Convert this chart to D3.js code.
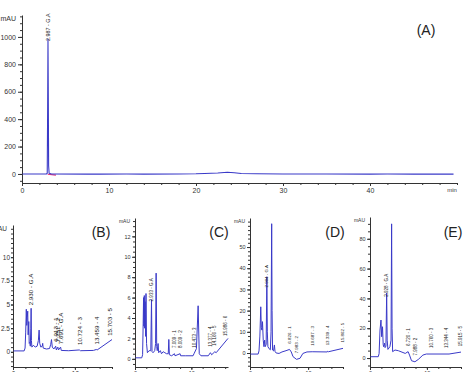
<!DOCTYPE html>
<html><head><meta charset="utf-8">
<script src="https://cdn.jsdelivr.net/npm/d3@7"></script>
<style>body{margin:0;background:#fff}svg{display:block}text{font-family:"Liberation Sans",Arial,sans-serif}</style>
</head><body><svg id="c" width="463" height="372"></svg>
<script>
// ================= DATA =================
// Panel A (standard)
const timeTicksA = [0, 10, 20, 30, 40];
const yTicksA = [0, 200, 400, 600, 800, 1000];
const traceA = [[0,0],[2.8,0],[2.9,5],[2.95,500],[2.987,985],[3.02,600],[3.06,60],[3.12,5],[3.4,0],[7.5,-1],[9,-1],[12,0],[14,-1],[18,0],[20,1],[21,3],[22.5,7],[23.6,12],[24.4,9],[25.2,3],[27,1],[30,0],[35,0],[40,-1],[42,0],[45,-1],[49.6,-1]];
const labelsA = [[2.987, "2.987 - G.A"]];
const integA = [[2.95,-2],[3.9,-8]];

// Panel B
const yTicksB = [0, 2.5, 5, 7.5, 10];
const yTickTextB = ["0", "2.5", "5", "7.5", "10"];
const traceB = [[0,0.1],[1.8,0.1],[1.95,0.4],[2.05,2.0],[2.15,4.5],[2.22,2.8],[2.3,3.6],[2.38,4.3],[2.45,1.8],[2.55,3.2],[2.62,0.9],[2.72,1.0],[2.8,0.6],[2.88,2.5],[2.93,4.6],[2.98,1.2],[3.05,0.5],[3.3,0.7],[3.6,0.5],[3.9,0.6],[4.1,1.2],[4.22,2.3],[4.32,0.9],[4.5,0.5],[4.72,0.6],[4.8,0.9],[4.88,0.4],[5.4,0.3],[5.9,0.35],[6.1,0.8],[6.22,1.3],[6.35,0.5],[6.6,0.3],[6.9,0.6],[7.0,0.2],[7.25,0.5],[7.35,0.2],[7.69,0.5],[7.8,0.15],[9,0.12],[10.72,0.2],[10.9,0.12],[13.0,0.15],[13.46,0.25],[13.6,0.2],[16,1.3]];
const labelsB = [[2.930,"2.930 - G.A"],[6.913,"6.913 - 1"],[7.251,"7.251 - 2"],[7.691,"7.691 - G.A"],[10.724,"10.724 - 3"],[13.459,"13.459 - 4"],[15.703,"15.703 - 5"]];

// Panel C
const yTicksC = [0, 2, 4, 6, 8, 10, 12];
const traceC = [[0,0.1],[1.2,0.1],[1.35,0.4],[1.45,3.5],[1.52,6.0],[1.58,3.2],[1.65,6.2],[1.72,3.0],[1.8,5.6],[1.88,2.2],[1.95,6.4],[2.05,1.5],[2.2,0.6],[2.5,0.8],[2.8,0.8],[2.93,5.8],[3.02,0.7],[3.2,0.6],[3.5,0.8],[3.65,1.5],[3.75,8.4],[3.85,1.2],[3.95,0.8],[4.1,1.5],[4.2,0.6],[4.5,0.8],[4.7,0.5],[5.0,0.7],[5.3,0.6],[5.6,0.5],[5.9,0.5],[6.0,1.9],[6.1,0.4],[6.5,0.3],[7.0,0.5],[7.1,0.3],[8.0,0.5],[8.1,0.3],[9,0.3],[10.3,0.3],[10.47,0.5],[10.9,1.0],[11.2,5.2],[11.4,0.5],[11.7,0.3],[13.0,0.3],[13.38,0.6],[13.6,0.4],[14.17,0.7],[14.4,0.6],[16.5,2.0]];
const labelsC = [[2.933,"2.933 - G.A"],[7.009,"7.009 - 1"],[8.009,"8.009 - 2"],[10.473,"10.473 - 3"],[13.377,"13.377 - 4"],[14.166,"14.166 - 5"],[15.986,"15.986 - 6"]];

// Panel D
const yTicksD = [0, 10, 20, 30, 40, 50];
const traceD = [[0,-0.5],[1.4,-0.5],[1.55,1],[1.7,8],[1.85,21.8],[1.95,12],[2.05,10.8],[2.15,14.8],[2.28,6],[2.4,3],[2.52,6.1],[2.62,3],[2.78,4],[2.9,36],[2.98,10],[3.08,3],[3.3,2],[3.5,1.5],[3.62,10],[3.73,61],[3.8,20],[3.88,1.4],[4.05,1.0],[4.2,3.8],[4.3,0.8],[4.5,0],[5.0,-0.2],[5.5,0.5],[6.2,1.1],[6.8,1.7],[7.1,0.5],[7.4,-1.7],[8.0,-3],[8.6,-2.5],[9.1,-0.2],[9.8,0.5],[10.7,0.6],[13.3,0.5],[13.34,0.8],[13.5,0.6],[16,2.2]];
const labelsD = [[2.904,"2.904 - G.A"],[6.826,"6.826 - 1"],[7.983,"7.983 - 2"],[10.687,"10.687 - 3"],[13.339,"13.339 - 4"],[15.862,"15.862 - 5"]];

// Panel E
const yTicksE = [0, 20, 40, 60, 80];
const traceE = [[0,0.9],[1.45,0.9],[1.6,3],[1.76,18.8],[1.93,25.5],[2.05,14.3],[2.2,21],[2.32,9],[2.4,7.6],[2.55,10],[2.65,7],[2.8,8],[2.93,43.6],[3.02,12],[3.15,5.8],[3.5,7.6],[3.7,12],[3.8,90],[3.88,20],[3.98,4.3],[4.4,5.4],[5.0,4.9],[6.2,3.1],[6.7,4.3],[6.95,2],[7.3,-1.8],[7.9,-2.5],[8.5,-0.9],[9.3,2],[9.9,2.7],[13.9,2.7],[16,4.0]];
const labelsE = [[2.928,"2.928 - G.A"],[6.720,"6.720 - 1"],[7.988,"7.988 - 2"],[10.760,"10.760 - 3"],[13.344,"13.344 - 4"],[15.915,"15.915 - 5"]];

const timeTicksSmall = [0, 10];
const panelNames = ["(A)", "(B)", "(C)", "(D)", "(E)"];

// ================= DRAW =================
const FONT = "Liberation Sans, Arial, sans-serif";
const LINE = "#3a3ac8";
const AX = "#333";
const svg = d3.select("#c");

function valueAt(tr, t){
  for (let i = 0; i < tr.length - 1; i++){
    const a = tr[i], b = tr[i+1];
    if (t >= a[0] && t <= b[0]) return a[1] + (b[1]-a[1]) * (t-a[0]) / (b[0]-a[0] || 1);
  }
  return tr[tr.length-1][1];
}
function minorVals(d, step){
  const out = [];
  for (let v = Math.ceil(d[0]/step)*step; v <= d[1] + 1e-9; v += step) out.push(+v.toFixed(4));
  return out;
}
function styleAxis(sel, fs){
  sel.attr("font-family", FONT).attr("font-size", fs);
  sel.selectAll("path.domain").attr("stroke", AX).attr("stroke-width", 1);
  sel.selectAll(".tick line").attr("stroke", AX);
  sel.selectAll(".tick text").attr("fill", "#333");
}

function drawPanel(o, idx){
  const x = d3.scaleLinear().domain(o.xDomain).range([o.left, o.right]);
  const y = d3.scaleLinear().domain(o.yDomain).range([o.bottom, o.top]);
  const g = svg.append("g");

  const ym = g.append("g").attr("transform", `translate(${o.left},0)`)
    .call(d3.axisLeft(y).tickValues(minorVals(o.yDomain, o.yMinor)).tickSize(2).tickFormat("").tickSizeOuter(0));
  ym.select(".domain").remove();
  ym.selectAll(".tick line").attr("stroke", AX);
  const ya = g.append("g").attr("transform", `translate(${o.left},0)`)
    .call(d3.axisLeft(y).tickValues(o.yTicks).tickSize(o.yTickSize).tickPadding(o.yPad).tickSizeOuter(0)
      .tickFormat((d,i) => o.yText ? o.yText[i] : d3.format("d")(d)));
  styleAxis(ya, o.tickFont);

  const xm = g.append("g").attr("transform", `translate(0,${o.bottom})`)
    .call(d3.axisBottom(x).tickValues(minorVals(o.xDomain, 2)).tickSize(2).tickFormat("").tickSizeOuter(0));
  xm.select(".domain").remove();
  xm.selectAll(".tick line").attr("stroke", AX);
  const xa = g.append("g").attr("transform", `translate(0,${o.bottom})`)
    .call(d3.axisBottom(x).tickValues(o.xTicks).tickSize(3).tickPadding(o.xPad).tickSizeOuter(0).tickFormat(d3.format("d")));
  styleAxis(xa, o.tickFont);

  g.append("text").attr("x", o.left - o.unitPad).attr("y", o.top + 3)
    .attr("text-anchor", "end").attr("dominant-baseline", "central")
    .attr("font-family", FONT).attr("font-size", o.unitFont).attr("fill", "#333").text("mAU");

  const cid = "clip" + idx;
  svg.append("clipPath").attr("id", cid).append("rect")
    .attr("x", o.left + 0.5).attr("y", o.top - 2).attr("width", o.right - o.left + 2).attr("height", o.bottom - o.top + 1);

  if (o.integ){
    g.append("path").datum(o.integ)
      .attr("d", d3.line().x(d => x(d[0])).y(d => y(d[1])))
      .attr("fill", "none").attr("stroke", "#e0307a").attr("stroke-width", 1.2);
  }
  g.append("path").datum(o.trace)
    .attr("clip-path", `url(#${cid})`)
    .attr("d", d3.line().x(d => x(d[0])).y(d => y(d[1])))
    .attr("fill", "none").attr("stroke", LINE).attr("stroke-width", o.lw).attr("stroke-linejoin", "round");

  o.labels.forEach(([t, txt]) => {
    const isGA = txt.indexOf("G.A") >= 0;
    const yb = y(valueAt(o.trace, t)) - (isGA ? o.gapGA : o.gap);
    g.append("text")
      .attr("transform", `translate(${x(t) + o.labFont*0.36},${yb}) rotate(-90)`)
      .attr("font-family", FONT).attr("font-size", o.labFont).attr("fill", "#222")
      .text(txt);
  });

  g.append("text").attr("x", o.nameX).attr("y", o.nameY)
    .attr("text-anchor", "middle").attr("dominant-baseline", "central")
    .attr("font-family", FONT).attr("font-size", 14).attr("fill", "#222").text(panelNames[idx]);
  return {x, y};
}

drawPanel({xDomain:[0,50], yDomain:[-66,1160], left:22, right:457, top:15, bottom:183,
  yTicks:yTicksA, yMinor:50, yTickSize:4, yPad:2, xTicks:timeTicksA, xPad:2, tickFont:7, unitFont:7, unitPad:6,
  trace:traceA, labels:labelsA, integ:integA, gap:6, gapGA:-2, labFont:5.4, lw:1.1,
  nameX:426, nameY:30}, 0);
svg.append("text").attr("x", 452).attr("y", 192).attr("text-anchor", "middle")
  .attr("font-family", FONT).attr("font-size", 6).attr("fill", "#333").text("min");

drawPanel({xDomain:[0,16], yDomain:[-1.6,13.4], left:13, right:112, top:225, bottom:367,
  yTicks:yTicksB, yText:yTickTextB, yMinor:0.5, yTickSize:2, yPad:1, xTicks:timeTicksSmall, xPad:1, tickFont:6.5, unitFont:6.5, unitPad:6,
  trace:traceB, labels:labelsB, gap:5, gapGA:3, labFont:6.2, lw:1,
  nameX:101, nameY:232}, 1);

drawPanel({xDomain:[0,16.5], yDomain:[-0.8,13.8], left:135, right:228, top:218, bottom:367,
  yTicks:yTicksC, yMinor:0.5, yTickSize:3, yPad:1.5, xTicks:timeTicksSmall, xPad:1, tickFont:5.5, unitFont:5, unitPad:5,
  trace:traceC, labels:labelsC, gap:6, gapGA:0, labFont:4.5, lw:1,
  nameX:219, nameY:232}, 2);

drawPanel({xDomain:[0,16], yDomain:[-6.6,63.7], left:250, right:343, top:218, bottom:367,
  yTicks:yTicksD, yMinor:2, yTickSize:3, yPad:1.5, xTicks:timeTicksSmall, xPad:1, tickFont:5.5, unitFont:5, unitPad:5,
  trace:traceD, labels:labelsD, gap:6, gapGA:-8, labFont:4.4, lw:1,
  nameX:335, nameY:232}, 3);

drawPanel({xDomain:[0,16], yDomain:[-6,94.6], left:370, right:461, top:217, bottom:367,
  yTicks:yTicksE, yMinor:5, yTickSize:3, yPad:1.5, xTicks:timeTicksSmall, xPad:1, tickFont:5.5, unitFont:5, unitPad:5,
  trace:traceE, labels:labelsE, gap:6, gapGA:-3, labFont:4.5, lw:1,
  nameX:453, nameY:232}, 4);
</script>
</body></html>
